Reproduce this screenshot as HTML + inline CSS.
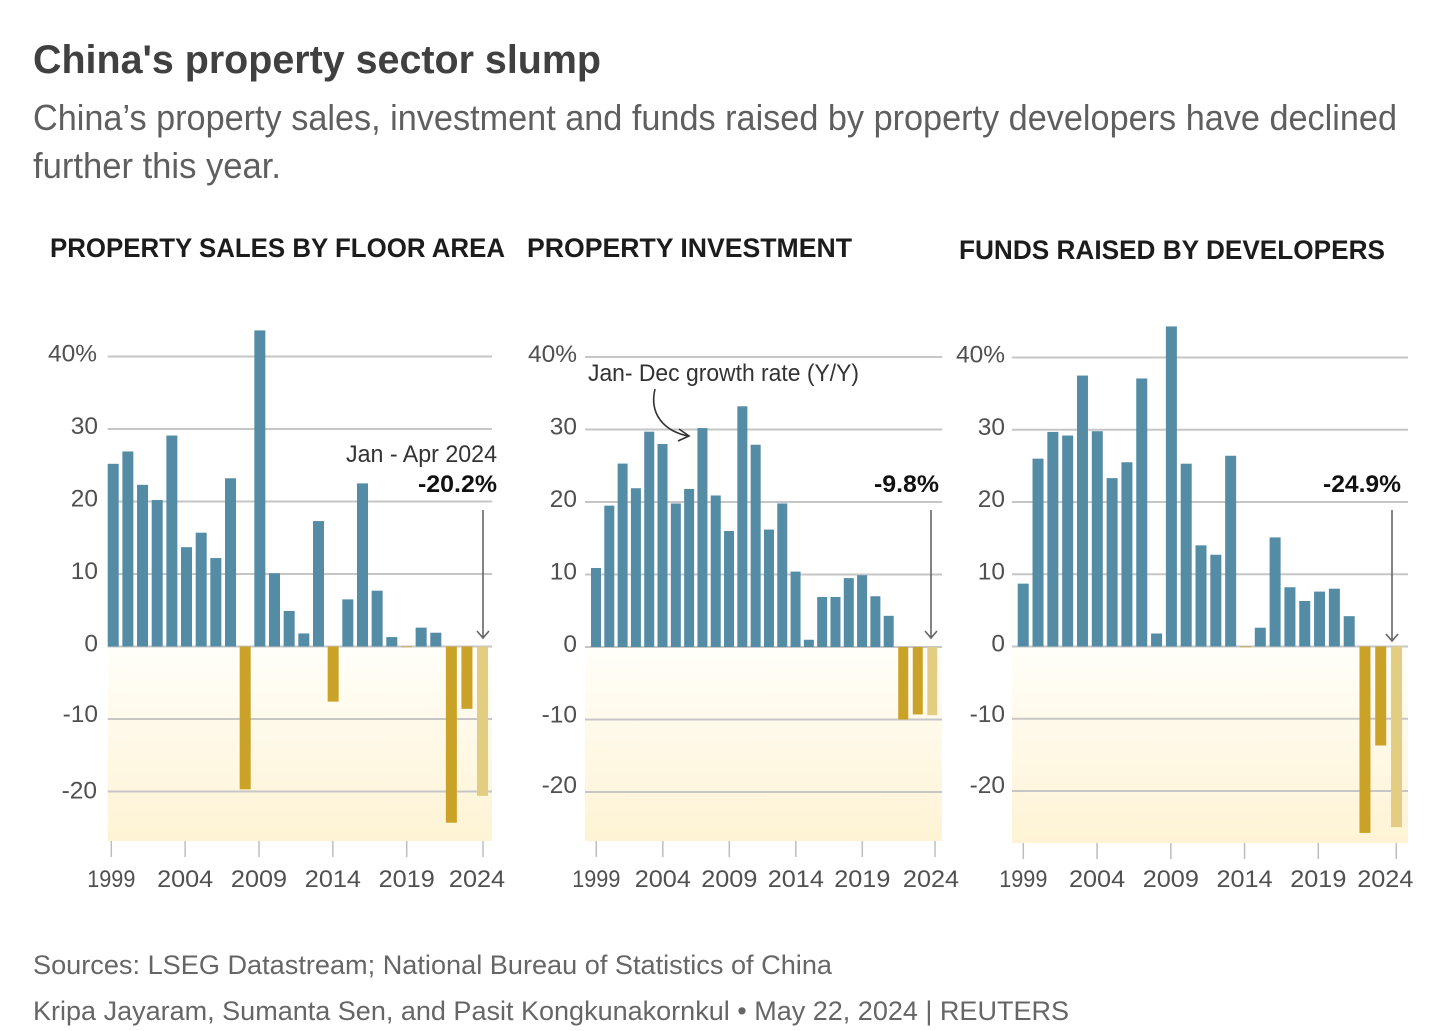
<!DOCTYPE html>
<html lang="en">
<head>
<meta charset="utf-8">
<title>China's property sector slump</title>
<style>
html,body{margin:0;padding:0;background:#fff;}
svg{display:block;font-family:"Liberation Sans",sans-serif;}
.tick{font-size:24px;fill:#505050;}
.note{font-size:24px;fill:#333;}
.val{font-size:24px;font-weight:bold;fill:#111;}
.ct{font-size:27px;font-weight:bold;fill:#1c1c1c;}
.foot{font-size:27px;fill:#666;}
</style>
</head>
<body>
<svg id="chart" width="1456" height="1031" viewBox="0 0 1456 1031" xmlns="http://www.w3.org/2000/svg">
  <defs>
    <linearGradient id="negGrad" x1="0" y1="0" x2="0" y2="1">
      <stop offset="0" stop-color="#fffef9"/>
      <stop offset="1" stop-color="#fef3d4"/>
    </linearGradient>
  </defs>
  <text x="33" y="73" font-size="40" font-weight="bold" fill="#404040" textLength="568" lengthAdjust="spacingAndGlyphs">China's property sector slump</text>
  <text x="33" y="130" font-size="36" fill="#5f5f5f" textLength="1364" lengthAdjust="spacingAndGlyphs">China’s property sales, investment and funds raised by property developers have declined</text>
  <text x="33" y="178" font-size="36" fill="#5f5f5f" textLength="248" lengthAdjust="spacingAndGlyphs">further this year.</text>

  <text class="ct" x="50" y="257" textLength="455" lengthAdjust="spacingAndGlyphs">PROPERTY SALES BY FLOOR AREA</text>
  <text class="ct" x="527" y="257" textLength="325" lengthAdjust="spacingAndGlyphs">PROPERTY INVESTMENT</text>
  <text class="ct" x="959" y="259" textLength="426" lengthAdjust="spacingAndGlyphs">FUNDS RAISED BY DEVELOPERS</text>

  <g id="panels"></g>

  <g id="annotations" fill="none" stroke="#666" stroke-width="1.6">
    <path d="M483 510V638M477 631L483 638L489 631"/>
    <path d="M931 510V638M925 631L931 638L937 631"/>
    <path d="M1392 510V641M1386 634L1392 641L1398 634"/>
    <path stroke="#333" d="M655 389C649 414 664 431 688 436M679 429L689 436L678 441"/>
  </g>
  <text class="note" x="497" y="462" text-anchor="end" textLength="151" lengthAdjust="spacingAndGlyphs">Jan - Apr 2024</text>
  <text class="val" x="497" y="492" text-anchor="end" textLength="79" lengthAdjust="spacingAndGlyphs">-20.2%</text>
  <text class="val" x="939" y="492" text-anchor="end" textLength="65" lengthAdjust="spacingAndGlyphs">-9.8%</text>
  <text class="val" x="1401" y="492" text-anchor="end" textLength="78" lengthAdjust="spacingAndGlyphs">-24.9%</text>
  <text class="note" x="588" y="381" textLength="271" lengthAdjust="spacingAndGlyphs">Jan- Dec growth rate (Y/Y)</text>

  <text class="foot" x="33" y="974" textLength="799" lengthAdjust="spacingAndGlyphs">Sources: LSEG Datastream; National Bureau of Statistics of China</text>
  <text class="foot" x="33" y="1020" textLength="1036" lengthAdjust="spacingAndGlyphs">Kripa Jayaram, Sumanta Sen, and Pasit Kongkunakornkul • May 22, 2024 | REUTERS</text>
</svg>
<script>
const years = [1999,2000,2001,2002,2003,2004,2005,2006,2007,2008,2009,2010,2011,2012,2013,2014,2015,2016,2017,2018,2019,2020,2021,2022,2023,2024];
const salesValues = [25.2,26.9,22.3,20.2,29.1,13.7,15.7,12.2,23.2,-19.7,43.6,10.1,4.9,1.8,17.3,-7.6,6.5,22.5,7.7,1.3,-0.1,2.6,1.9,-24.3,-8.6,-20.6];
const investmentValues = [10.9,19.5,25.3,21.9,29.7,28.0,19.8,21.8,30.2,20.9,16.0,33.2,27.9,16.2,19.8,10.4,1.0,6.9,6.9,9.5,9.9,7.0,4.3,-10.0,-9.3,-9.4];
const fundsValues = [8.7,26.0,29.7,29.2,37.5,29.8,23.3,25.5,37.1,1.8,44.3,25.3,14.0,12.7,26.4,-0.1,2.6,15.1,8.2,6.3,7.6,8.0,4.2,-25.8,-13.7,-25.0];
const yTickValues = [40,30,20,10,0,-10,-20];
const yTickLabels = ['40%','30','20','10','0','-10','-20'];
const xTickYears = [1999,2004,2009,2014,2019,2024];

const panels = [
  {key:'sales', values:salesValues, left:107.7, right:492, y40:356.5, y0:646.5, bottom:841, barStart:107.7, bar2021:430.3, barEnd:477, barW:11,
   tickStart:111.3, tick2019:406.7, tick2024:483, lastLabelShift:-6, labelRight:98, neg20Shift:2},
  {key:'investment', values:investmentValues, left:585, right:942, y40:357, y0:647, bottom:841, barStart:591, bar2021:883.7, barEnd:927.3, barW:10,
   tickStart:596.3, tick2019:862.3, tick2024:935, lastLabelShift:-4, labelRight:577, neg20Shift:-4},
  {key:'funds', values:fundsValues, left:1012, right:1408, y40:357.5, y0:646.5, bottom:843, barStart:1017.7, bar2021:1343.7, barEnd:1391, barW:11,
   tickStart:1023.3, tick2019:1318.3, tick2024:1396.3, lastLabelShift:-11, labelRight:1005, neg20Shift:-3}
];

const NS = 'http://www.w3.org/2000/svg';
const root = document.getElementById('panels');

function make(tag, attrs, parent) {
  const el = document.createElementNS(NS, tag);
  for (const k in attrs) el.setAttribute(k, attrs[k]);
  parent.appendChild(el);
  return el;
}
function condense(el, ratio) {
  el.setAttribute('textLength', (el.getComputedTextLength() * ratio).toFixed(1));
  el.setAttribute('lengthAdjust', 'spacingAndGlyphs');
}

panels.forEach(function (p) {
  const y = function (v) { return p.y0 - v * (p.y0 - p.y40) / 40; };
  const split = years.indexOf(2021);
  const barX = function (i) {
    return i <= split
      ? p.barStart + i * (p.bar2021 - p.barStart) / split
      : p.bar2021 + (i - split) * (p.barEnd - p.bar2021) / (years.length - 1 - split);
  };
  const tickX = function (yr) {
    return yr <= 2019
      ? p.tickStart + (yr - 1999) * (p.tick2019 - p.tickStart) / 20
      : p.tick2019 + (yr - 2019) * (p.tick2024 - p.tick2019) / 5;
  };

  const g = make('g', {}, root);
  
  

  const band = make('rect', {x:p.left, y:y(0), width:p.right - p.left, height:p.bottom - y(0), fill:'url(#negGrad)'}, g);
  
  

  yTickValues.forEach(function (v, i) {
    const line = make('line', {x1:p.left, x2:p.right, y1:y(v), y2:y(v), stroke:'#c6c6c6', 'stroke-width':2}, g);
    
    
    const shift = (v === -20 ? p.neg20Shift : (v === -10 ? -2 : 0)) - 1;
    const label = make('text', {x:p.labelRight - ((v === 40 || v === -20) && p.key === 'sales' ? 1 : 0), y:y(v) + 6 + shift, 'text-anchor':'end', class:'tick'}, g);
    
    
    label.textContent = yTickLabels[i];
    condense(label, 1.02);
  });

  p.values.forEach(function (v, i) {
    const color = v >= 0 ? '#548ca6' : (years[i] === 2024 ? '#e3cd82' : '#c9a227');
    const bar = make('rect', {x:barX(i), width:p.barW, y:Math.min(y(v), y(0)), height:Math.abs(y(v) - y(0)), fill:color}, g);
    
    
  });

  xTickYears.forEach(function (yr) {
    const tick = make('line', {x1:tickX(yr), x2:tickX(yr), y1:p.bottom, y2:p.bottom + 16, stroke:'#bdbdbd', 'stroke-width':1.5}, g);
    
    
    const label = make('text', {x:tickX(yr) + (yr === 2024 ? p.lastLabelShift : 0), y:887, 'text-anchor':'middle', class:'tick'}, g);
    
    
    label.textContent = yr;
    condense(label, yr === 1999 ? 0.9 : 1.05);
  });
});
</script>
</body>
</html>
